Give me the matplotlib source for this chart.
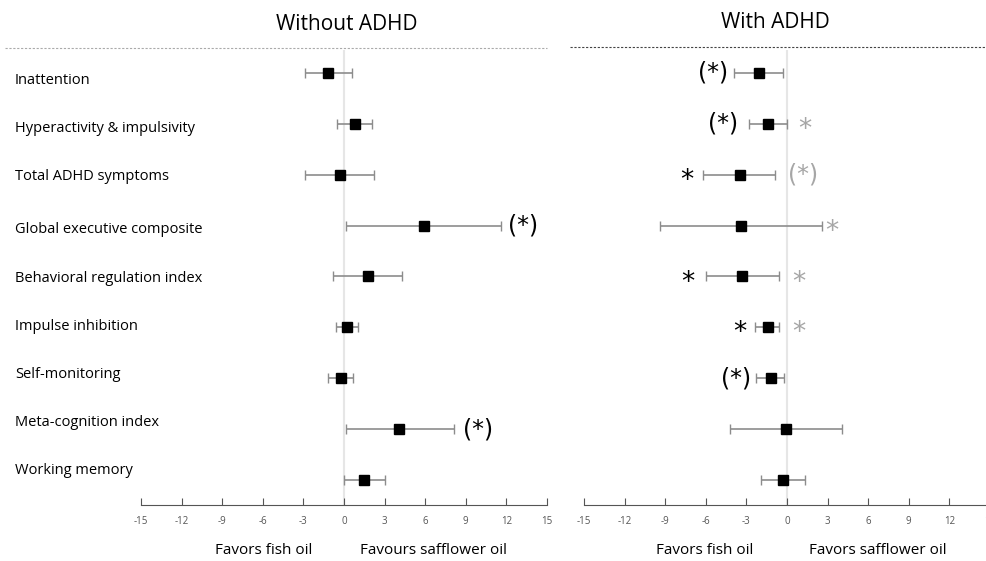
import matplotlib
matplotlib.use("Agg")
import matplotlib.pyplot as plt
from matplotlib.lines import Line2D

plt.rcParams['font.family'] = ['Open Sans', 'DejaVu Sans']

outcomes = ["Inattention", "Hyperactivity & impulsivity", "Total ADHD symptoms",
            "Global executive composite", "Behavioral regulation index",
            "Impulse inhibition", "Self-monitoring", "Meta-cognition index",
            "Working memory"]

# without ADHD: estimate, lower CI, upper CI
no_est = [-1.2, 0.8, -0.3, 5.9, 1.8, 0.2, -0.2, 4.1, 1.5]
no_lo = [-2.9, -0.5, -2.9, 0.15, -0.8, -0.6, -1.2, 0.15, 0.0]
no_hi = [0.6, 2.1, 2.2, 11.6, 4.3, 1.0, 0.7, 8.1, 3.0]

# with ADHD
ad_est = [-2.1, -1.4, -3.5, -3.4, -3.3, -1.4, -1.2, -0.1, -0.3]
ad_lo = [-3.9, -2.8, -6.2, -9.4, -6.0, -2.4, -2.3, -4.2, -1.9]
ad_hi = [-0.3, 0.0, -0.9, 2.6, -0.6, -0.6, -0.2, 4.1, 1.3]

ticks = list(range(-15, 16, 3))

# significance marks: (row, x, text, colour)
no_marks = [(3, 13.2, "(*)", "black"), (7, 9.9, "(*)", "black")]
ad_marks = [(0, -5.5, "(*)", "black"), (1, -4.7, "(*)", "black"),
            (1, 1.3, "*", "#a6a6a6"), (2, -7.4, "*", "black"),
            (2, 1.2, "(*)", "#a6a6a6"), (3, 3.3, "*", "#a6a6a6"),
            (4, -7.3, "*", "black"), (4, 0.9, "*", "#a6a6a6"),
            (5, -3.5, "*", "black"), (5, 0.9, "*", "#a6a6a6"),
            (6, -3.8, "(*)", "black")]

fig = plt.figure(figsize=(9.87, 5.61), dpi=100)
W, H = 987.0, 561.0

ax1 = fig.add_axes([141 / W, 1 - 505 / H, 406 / W, 455 / H])
ax2 = fig.add_axes([584 / W, 1 - 505 / H, 406 / W, 455 / H])


def draw(ax, est, lo, hi, marks):
    rows = list(range(len(est)))
    xerr = [[e - l for e, l in zip(est, lo)], [h - e for e, h in zip(est, hi)]]
    ax.axvline(0, color="#e6e6e6", lw=1.5, zorder=0)
    ax.errorbar(est, rows, xerr=xerr, fmt="s", color="black", ms=7,
                ecolor="#8c8c8c", elinewidth=1.2, capsize=3.5, capthick=1)
    for r, x, t, c in marks:
        dy = 0.12 if t == "*" else 0.0
        fs = 19 if t == "*" else 17
        ax.text(x, r + dy, t, color=c, fontsize=fs, ha="center", va="center",
                family=["DejaVu Sans"])
    ax.set_xlim(-15, 15)
    ax.set_ylim(8.49, -0.45)
    ax.set_yticks([])
    ax.set_xticks(ticks)
    ax.set_xticklabels([str(t) for t in ticks], fontsize=7, color="#555555")
    ax.tick_params(axis="x", direction="in", length=5, color="#555555", pad=8)
    for s in ["top", "left", "right"]:
        ax.spines[s].set_visible(False)
    ax.spines["bottom"].set_color("#555555")
    ax.patch.set_alpha(0)


draw(ax1, no_est, no_lo, no_hi, no_marks)
draw(ax2, ad_est, ad_lo, ad_hi, ad_marks)

label_y = [81, 129, 176, 230, 279, 327, 374, 423, 471]
for name, y in zip(outcomes, label_y):
    fig.text(15 / W, 1 - y / H, name, fontsize=10.5, va="center", ha="left")

fig.text(347 / W, 1 - 25 / H, "Without ADHD", fontsize=15, ha="center", va="center")
fig.text(775 / W, 1 - 23 / H, "With ADHD", fontsize=15, ha="center", va="center")

fig.text(264 / W, 1 - 551 / H, "Favors fish oil", fontsize=11, ha="center", va="center")
fig.text(434 / W, 1 - 551 / H, "Favours safflower oil", fontsize=11, ha="center", va="center")
fig.text(705 / W, 1 - 551 / H, "Favors fish oil", fontsize=11, ha="center", va="center")
fig.text(878 / W, 1 - 551 / H, "Favors safflower oil", fontsize=11, ha="center", va="center")

fig.add_artist(Line2D([5 / W, 547 / W], [1 - 48 / H, 1 - 48 / H], color="#aaaaaa",
                      lw=0.8, ls=(0, (2, 1.5))))
fig.add_artist(Line2D([570 / W, 1.0], [1 - 47 / H, 1 - 47 / H], color="#444444",
                      lw=0.8, ls=(0, (2, 1.5))))

fig.savefig("out.png", dpi=100, facecolor="white")
